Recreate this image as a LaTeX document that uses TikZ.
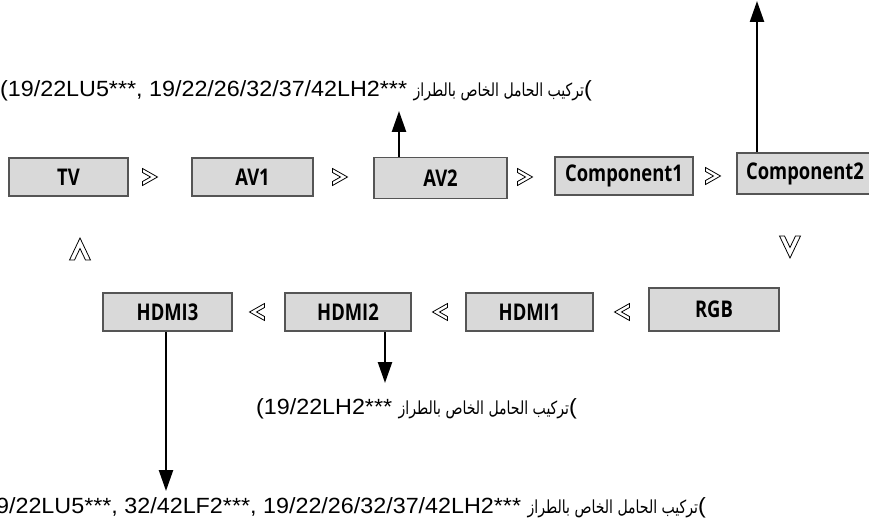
\documentclass[tikz,border=0pt]{standalone}
\usepackage{fontspec}
\setmainfont{Liberation Sans}
\newfontfamily\lblfont[FakeStretch=1.06]{Liberation Sans}
\newfontfamily\arabicfont[Script=Arabic,FakeStretch=0.78]{DejaVu Sans}
\newfontfamily\boxfont[FakeStretch=0.80]{Open Sans}
\TeXXeTstate=1
\usetikzlibrary{arrows.meta}
\definecolor{boxfill}{HTML}{D9D9D9}
\definecolor{boxline}{HTML}{555555}
\tikzset{
  box/.style={draw=boxline, line width=1.6pt, fill=boxfill, inner sep=0pt,
    font=\boxfont\bfseries\fontsize{23}{26}\selectfont},
  arr/.style={line width=2.4pt, -{Triangle[length=21pt,width=14pt]}},
  lbl/.style={inner sep=0pt, font=\lblfont\fontsize{22}{25}\selectfont},
  chevR/.pic={\draw[line width=0.8pt, fill=white] (-7.5,-8.5) -- (7.5,0) -- (-7.5,8.5) -- (-7.5,4.5) -- (0.5,0) -- (-7.5,-4.5) -- cycle;},
  chevL/.pic={\draw[line width=0.8pt, fill=white, rotate=180] (-7.5,-8.5) -- (7.5,0) -- (-7.5,8.5) -- (-7.5,4.5) -- (0.5,0) -- (-7.5,-4.5) -- cycle;},
  chevU/.pic={\draw[line width=0.8pt, fill=white] (-10.5,11) -- (0,-11) -- (10.5,11) -- (5.5,11) -- (0,-0.5) -- (-5.5,11) -- cycle;},
  chevD/.pic={\draw[line width=0.8pt, fill=white, rotate=180] (-10.5,11) -- (0,-11) -- (10.5,11) -- (5.5,11) -- (0,-0.5) -- (-5.5,11) -- cycle;},
}
\newcommand\arlabel{{\arabicfont\fontsize{18}{21}\selectfont\beginR تركيب الحامل الخاص بالطراز\endR}}
\begin{document}
\begin{tikzpicture}[x=1pt,y=-1pt]
\useasboundingbox (0,0) rectangle (869,526);
% top row
\node[box, minimum width=119pt, minimum height=38pt] (tv) at (68.5,177) {TV};
\node[box, minimum width=121pt, minimum height=38pt] (av1) at (252.5,177) {AV1};
\node[box, minimum width=133pt, minimum height=41pt] (av2) at (440.5,178) {AV2};
\node[box, minimum width=138pt, minimum height=38pt] (comp1) at (624,176) {Component1};
\node[box, minimum width=136pt, minimum height=41pt] (comp2) at (805,173.5) {Component2};
% bottom row
\node[box, minimum width=129pt, minimum height=38pt] (hdmi3) at (167.5,312) {HDMI3};
\node[box, minimum width=126pt, minimum height=38pt] (hdmi2) at (348,312) {HDMI2};
\node[box, minimum width=127pt, minimum height=38pt] (hdmi1) at (529.5,312) {HDMI1};
\node[box, minimum width=130pt, minimum height=43pt] (rgb) at (714,309.5) {RGB};
% chevrons
\pic at (150,177) {chevR};
\pic at (340,177) {chevR};
\pic at (525,177) {chevR};
\pic at (713,176) {chevR};
\pic at (257,312) {chevL};
\pic at (440,312) {chevL};
\pic at (622,312) {chevL};
\pic at (80,249) {chevU};
\pic at (790,247) {chevD};
% arrow ends
\coordinate (a2end) at (399,111);
\coordinate (c2end) at (757,1);
\coordinate (h2end) at (385,383);
\coordinate (h3end) at (166,491);
\draw[arr] (av2.north -| a2end) -- (a2end);
\draw[arr] (comp2.north -| c2end) -- (c2end);
\draw[arr] (hdmi2.south -| h2end) -- (h2end);
\draw[arr] (hdmi3.south -| h3end) -- (h3end);
% labels
\node[lbl, anchor=east] (l1) at (592,91) {(19/22LU5***, 19/22/26/32/37/42LH2*** \arlabel(};
\node[lbl, anchor=east] (l2) at (577,409) {(19/22LH2*** \arlabel(};
\node[lbl, anchor=east] (l3) at (706,508) {(19/22LU5***, 32/42LF2***, 19/22/26/32/37/42LH2*** \arlabel(};
\end{tikzpicture}
\end{document}
